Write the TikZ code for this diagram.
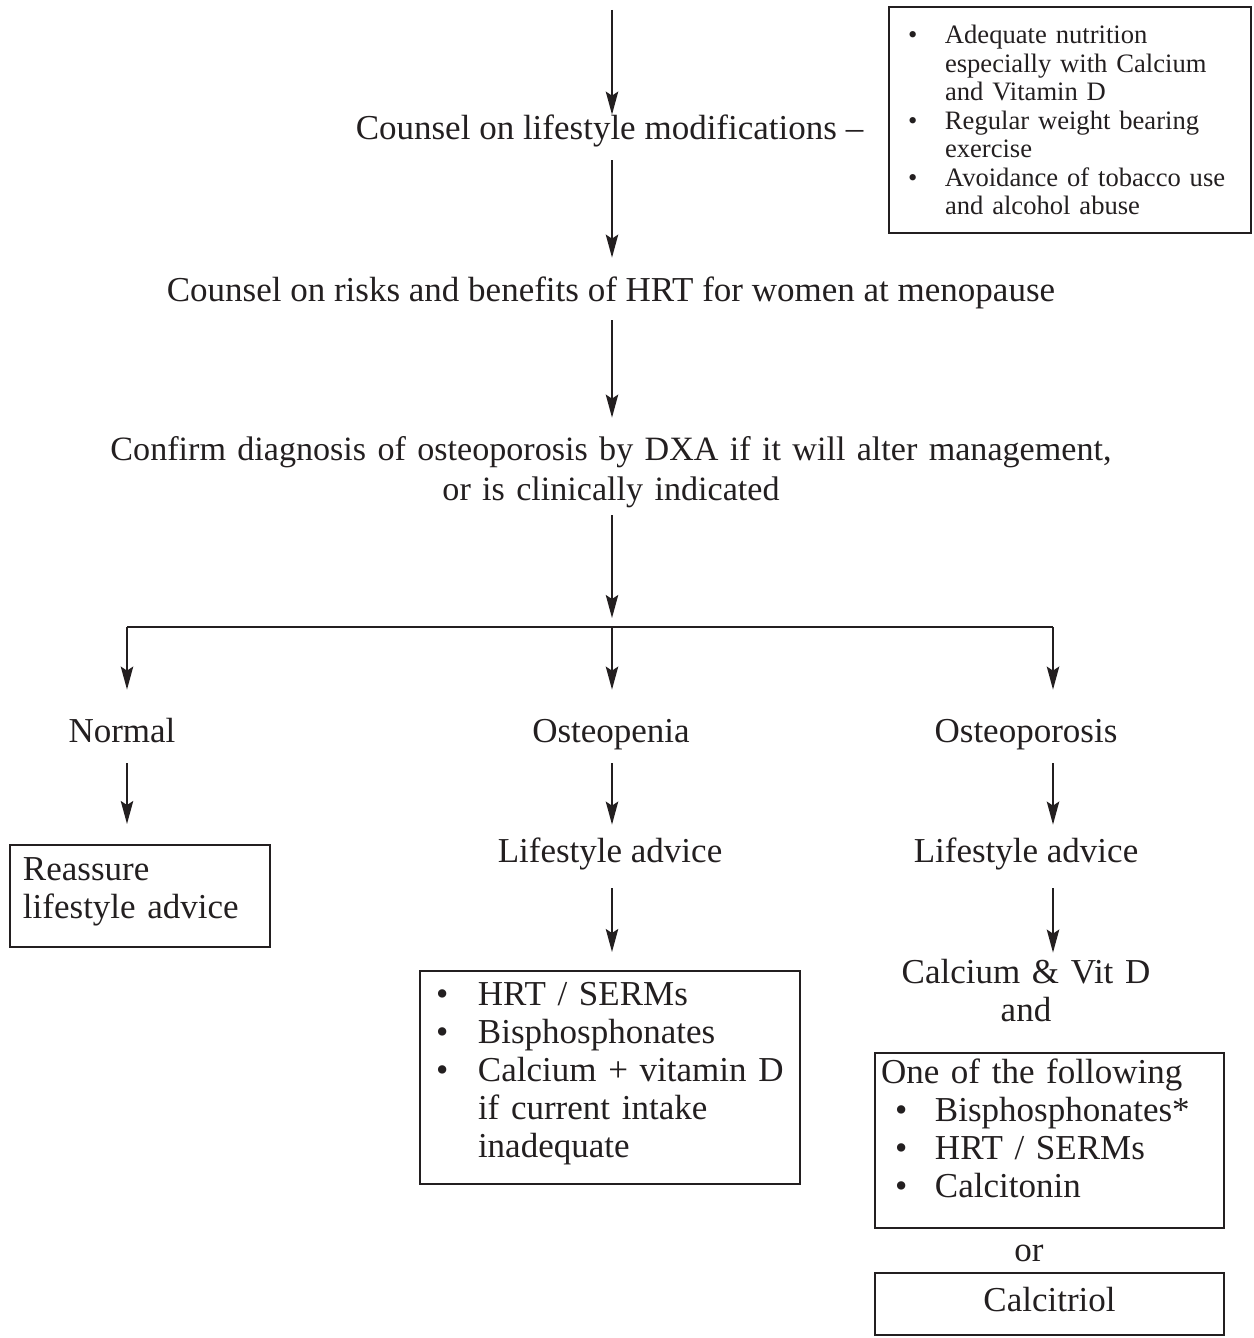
\documentclass[tikz,border=0pt]{standalone}
\usepackage{fontspec}
\setmainfont{Liberation Serif}
\usetikzlibrary{arrows.meta}
\definecolor{ink}{HTML}{231F20}
\newcommand\mainsz{\fontsize{17.5pt}{20pt}\selectfont}
\newcommand\confsz{\fontsize{17.05pt}{20pt}\selectfont}
\newcommand\listsz{\fontsize{17.5pt}{19pt}\selectfont}
\newcommand\smallsz{\fontsize{13.3pt}{14.25pt}\selectfont}
\newcommand\bulw[1]{\makebox[#1][l]{\textbullet}}
\begin{document}
\begin{tikzpicture}[x=0.5pt,y=-0.5pt,
  lbl/.style={font=\mainsz, text=ink, inner sep=0pt, anchor=base, text height=12.5pt, text depth=4pt},
  listbox/.style={draw=ink, line width=1pt, font=\listsz, text=ink, align=left, anchor=base, inner ysep=0pt},
  arr/.style={draw=ink, line width=1pt, -{Stealth[length=11.5pt,width=6.2pt,inset=2pt]}},
  plain/.style={draw=ink, line width=1pt}]
\useasboundingbox (0,0) rectangle (1253,1338);

% column coordinates
\coordinate (top) at (612,10);
\coordinate (j) at (612,618);
\coordinate (hL) at (127,627);
\coordinate (hM) at (612,627);
\coordinate (hR) at (1053,627);

% top part
\node[lbl] (t1) at (609.5,140) {Counsel on lifestyle modifications \textendash};
\node[listbox, font=\smallsz, text width=162pt, inner xsep=9.5pt, text height=18.5pt, text depth=94.5pt] (tbox) at (1070,44)
 {\bulw{18.5pt}Adequate nutrition\\
  \hspace*{18.5pt}especially with Calcium\\
  \hspace*{18.5pt}and Vitamin D\\
  \bulw{18.5pt}Regular weight bearing\\
  \hspace*{18.5pt}exercise\\
  \bulw{18.5pt}Avoidance of tobacco use\\
  \hspace*{18.5pt}and alcohol abuse};
\node[lbl] (t2) at (611,301) {Counsel on risks and benefits of HRT for women at menopause};
\node[lbl, font=\confsz, text width=540pt, align=center, text depth=24pt] (t3) at (611,460)
 {Confirm diagnosis of osteoporosis by DXA if it will alter management,\\ or is clinically indicated};

% three branches
\node[lbl] (nrm) at (122,742) {Normal};
\node[lbl] (opn) at (611,742) {Osteopenia};
\node[lbl] (opr) at (1026,742) {Osteoporosis};

\node[listbox, text width=117pt, inner xsep=6.5pt, text height=17.5pt, text depth=33.5pt] (rbox) at (140,880)
 {Reassure\\ lifestyle advice};

\node[lbl] (la1) at (610,862) {Lifestyle advice};
\node[lbl] (la2) at (1026,862) {Lifestyle advice};

\node[listbox, text width=174pt, inner xsep=8pt, text height=17pt, text depth=89.5pt] (opbox) at (610,1005)
 {\bulw{21pt}HRT / SERMs\\
  \bulw{21pt}Bisphosphonates\\
  \bulw{21pt}Calcium + vitamin D\\
  \hspace*{21pt}if current intake\\
  \hspace*{21pt}inadequate};

\node[lbl, font=\listsz, text width=150pt, align=center, text height=15pt] (cavd) at (1026,983)
 {Calcium \& Vit D\\ and};

\node[listbox, text width=168.5pt, inner xsep=3pt, text height=15pt, text depth=72.5pt] (obox) at (1049.5,1083)
 {One of the following\\
  \hspace*{7pt}\bulw{20pt}Bisphosphonates*\\
  \hspace*{7pt}\bulw{20pt}HRT / SERMs\\
  \hspace*{7pt}\bulw{20pt}Calcitonin};

\node[lbl] (orw) at (1029,1261) {or};

\node[listbox, align=center, text width=168.5pt, inner xsep=3pt, text height=19pt, text depth=12pt] (cbox) at (1049.5,1311) {Calcitriol};

% connectors
\draw[arr] (top) -- (t1.north -| top);
\draw[arr, shorten <=6pt, shorten >=9pt] (t1.south -| top) -- (t2.north -| top);
\draw[arr, shorten <=5.5pt, shorten >=8.5pt] (t2.south -| top) -- (t3.north -| top);
\draw[arr, shorten <=3.5pt] (t3.south -| top) -- (j);
\draw[plain] (hL) -- (hR);
\draw[arr, shorten >=13.5pt] (hL) -- (nrm.north -| hL);
\draw[arr, shorten >=13.5pt] (hM) -- (opn.north -| hM);
\draw[arr, shorten >=13.5pt] (hR) -- (opr.north -| hR);
\draw[arr, shorten <=6.5pt, shorten >=10pt] (nrm.south -| hL) -- (rbox.north -| hL);
\draw[arr, shorten <=6.5pt, shorten >=6pt] (opn.south -| hM) -- (la1.north -| hM);
\draw[arr, shorten <=6.5pt, shorten >=6pt] (opr.south -| hR) -- (la2.north -| hR);
\draw[arr, shorten <=9pt, shorten >=9pt] (la1.south -| hM) -- (opbox.north -| hM);
\draw[arr, shorten <=9pt] (la2.south -| hR) -- (cavd.north -| hR);
\end{tikzpicture}
\end{document}
